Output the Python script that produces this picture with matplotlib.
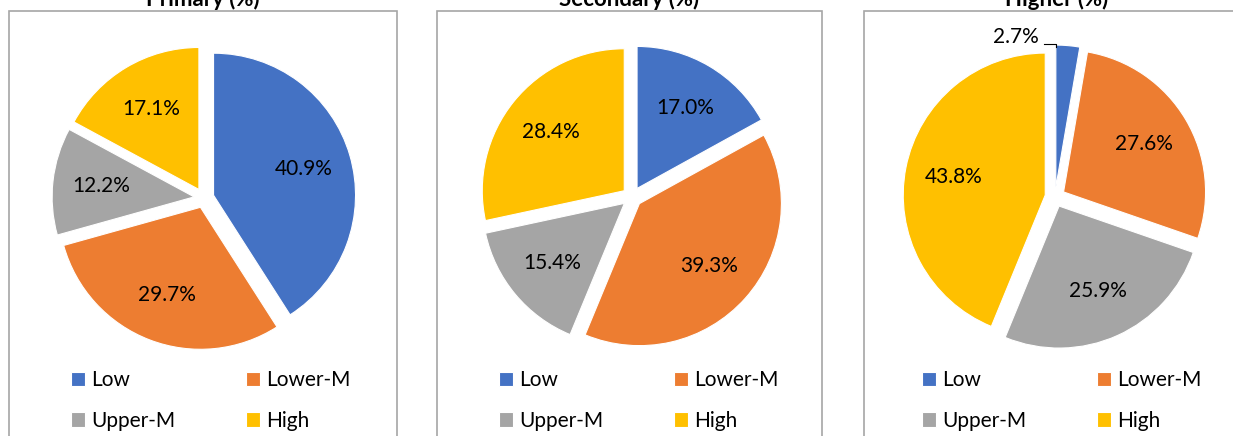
import matplotlib
matplotlib.use("Agg")
from matplotlib import pyplot as plt
from matplotlib.patches import Rectangle

plt.rcParams["font.family"] = ["Lato", "DejaVu Sans"]

categories = ["Low", "Lower-M", "Upper-M", "High"]
colors = ["#4472C4", "#ED7D31", "#A5A5A5", "#FFC000"]
titles = ["Primary (%)", "Secondary (%)", "Higher (%)"]
primary = [40.9, 29.7, 12.2, 17.1]
secondary = [17.0, 39.3, 15.4, 28.4]
higher = [2.7, 27.6, 25.9, 43.8]

W, H = 1233, 436
R = 142  # pie radius in pixels
fig = plt.figure(figsize=(W / 100, H / 100), dpi=100)

# panel boxes (x0, x1 in px) and pie centres
panels = [(9, 397), (437, 822), (864, 1250)]
centres = [(204, 198), (632, 197), (1055, 197)]


def px_axes(cx, cy, half):
    return fig.add_axes([(cx - half) / W, 1 - (cy + half) / H, 2 * half / W, 2 * half / H])


for i, values in enumerate([primary, secondary, higher]):
    x0, x1 = panels[i]
    fig.patches.append(Rectangle((x0 / W, -0.1), (x1 - x0) / W, 1.1 - 11 / H,
                                 transform=fig.transFigure, fill=False,
                                 edgecolor="#a6a6a6", linewidth=1.2))
    fig.text((x0 + x1) / 2 / W, 1 - 6 / H, titles[i], ha="center", va="baseline",
             fontsize=16, fontweight="bold")

    cx, cy = centres[i]
    half = 1.3 * R
    ax = px_axes(cx, cy, half)
    wedges, texts, autotexts = ax.pie(
        values, colors=colors, startangle=90, counterclock=False,
        explode=[0.07] * 4, autopct="%.1f%%", pctdistance=0.66,
        wedgeprops=dict(edgecolor="white", linewidth=0.8),
        textprops=dict(fontsize=15, color="black"),
    )
    ax.set_xlim(-1.3, 1.3)
    ax.set_ylim(-1.3, 1.3)
    ax.set_aspect("equal")
    ax.axis("off")

    # small slice gets its label outside with a leader line
    for w, t, v in zip(wedges, autotexts, values):
        if v < 5:
            wx, wy = w.center
            top = wy + w.r
            ax.plot([wx - 0.08, wx, wx], [top + 0.005, top + 0.005, top - 0.015],
                    color="black", linewidth=0.8)
            t.set_position((wx - 0.28, top + 0.06))

    # legend fills row by row: Low, Lower-M / Upper-M, High
    order = [0, 2, 1, 3]
    ax.legend([wedges[k] for k in order], [categories[k] for k in order],
              ncol=2, loc="upper left", frameon=False,
              bbox_to_anchor=((cx - 133) / W, 1 - 370 / H),
              bbox_transform=fig.transFigure, fontsize=15,
              handlelength=0.67, handleheight=0.67, handletextpad=0.3,
              columnspacing=3.4, labelspacing=1.0, borderpad=0, borderaxespad=0)

fig.savefig("out.png", dpi=100)
